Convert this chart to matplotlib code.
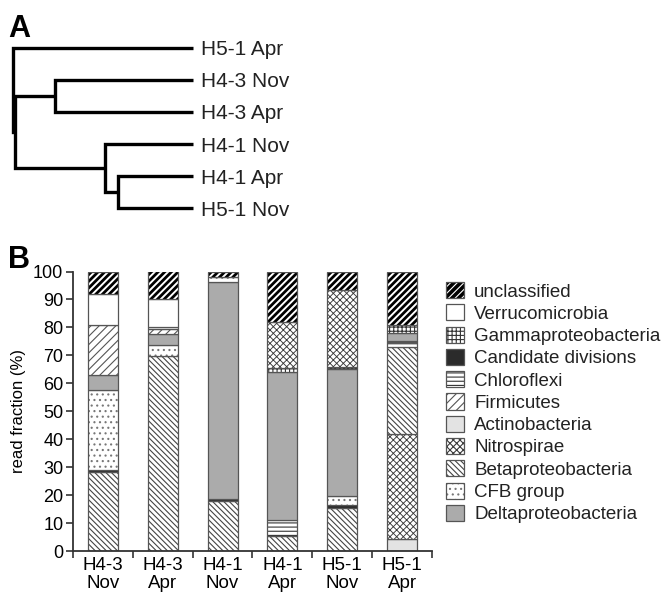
import matplotlib
matplotlib.use('Agg')
import matplotlib.pyplot as plt
from matplotlib.patches import Patch
from matplotlib.legend_handler import HandlerTuple

plt.rcParams['font.family'] = ['Liberation Sans', 'DejaVu Sans']
plt.rcParams['hatch.linewidth'] = 0.8
plt.rcParams['text.color'] = '#222222'

# ---- panel A: dendrogram (leaf order + merge heights) ----
tree_leaves = ["H5-1 Apr", "H4-3 Nov", "H4-3 Apr", "H4-1 Nov", "H4-1 Apr", "H5-1 Nov"]
# (child a, child b, height) ; new clusters numbered from 6 upward
tree_merges = [(4, 5, 74), (3, 6, 87), (1, 2, 136), (7, 8, 176), (0, 9, 178)]

# ---- panel B: stacked read fractions (%), bottom to top ----
samples = ["H4-3\nNov", "H4-3\nApr", "H4-1\nNov", "H4-1\nApr", "H5-1\nNov", "H5-1\nApr"]

h43_nov = [("Betaproteobacteria", 28.2), ("Candidate divisions", 0.8), ("CFB group", 28.6),
           ("Deltaproteobacteria", 5.2), ("Firmicutes", 18.1), ("Verrucomicrobia", 11.0),
           ("unclassified", 8.1)]
h43_apr = [("Betaproteobacteria", 69.9), ("CFB group", 3.9), ("Deltaproteobacteria", 3.9),
           ("Firmicutes", 1.9), ("Chloroflexi", 0.5), ("Verrucomicrobia", 9.9),
           ("unclassified", 10.0)]
h41_nov = [("Betaproteobacteria", 18.0), ("Candidate divisions", 0.6), ("Deltaproteobacteria", 77.8),
           ("CFB group", 1.5), ("unclassified", 2.1)]
h41_apr = [("Betaproteobacteria", 5.5), ("Chloroflexi", 5.5), ("Deltaproteobacteria", 53.2),
           ("Gammaproteobacteria", 1.2), ("Nitrospirae", 16.7), ("unclassified", 17.9)]
h51_nov = [("Betaproteobacteria", 15.3), ("Candidate divisions", 1.2), ("CFB group", 3.3),
           ("Deltaproteobacteria", 45.4), ("Gammaproteobacteria", 0.5), ("Nitrospirae", 27.7),
           ("unclassified", 6.6)]
h51_apr = [("Actinobacteria", 4.4), ("Nitrospirae", 37.4), ("Betaproteobacteria", 31.3),
           ("Chloroflexi", 1.6), ("Candidate divisions", 0.6), ("Deltaproteobacteria", 2.6),
           ("Gammaproteobacteria", 3.1), ("unclassified", 19.0)]
stacks = [h43_nov, h43_apr, h41_nov, h41_apr, h51_nov, h51_apr]

legend_taxa = ["unclassified", "Verrucomicrobia", "Gammaproteobacteria", "Candidate divisions",
               "Chloroflexi", "Firmicutes", "Actinobacteria", "Nitrospirae",
               "Betaproteobacteria", "CFB group", "Deltaproteobacteria"]

# face colour, hatch, hatch colour
style = {
    "unclassified": ("black", "/////", "white"),
    "Verrucomicrobia": ("white", "", "white"),
    "Gammaproteobacteria": ("white", "++++", "#333333"),
    "Candidate divisions": ("#2b2b2b", "", "#2b2b2b"),
    "Chloroflexi": ("white", "----", "#333333"),
    "Firmicutes": ("white", "////", "#555555"),
    "Actinobacteria": ("#e3e3e3", "", "#e3e3e3"),
    "Nitrospirae": ("white", "xxxxx", "#3a3a3a"),
    "Betaproteobacteria": ("white", "\\" * 6, "#444444"),
    "CFB group": ("white", "...", "#777777"),
    "Deltaproteobacteria": ("#ababab", "", "#ababab"),
}
hatch_lw = {"unclassified": 1.4, "Nitrospirae": 0.65}
edge_col = '#555555'


def set_hlw(patch, taxon):
    if taxon in hatch_lw and hasattr(patch, 'set_hatch_linewidth'):
        patch.set_hatch_linewidth(hatch_lw[taxon])


fig = plt.figure(figsize=(6.66, 5.97), dpi=100)

# dendrogram
axA = fig.add_axes([13 / 666, 1 - 208.3 / 597, 180 / 666, 160.6 / 597])
ypos = list(range(len(tree_leaves)))
height = [0] * len(tree_leaves)
for a, b, h in tree_merges:
    axA.plot([height[a], h, h, height[b]], [ypos[a], ypos[a], ypos[b], ypos[b]],
             color='black', lw=2.4, solid_joinstyle='miter', solid_capstyle='butt', clip_on=False)
    ypos.append((ypos[a] + ypos[b]) / 2)
    height.append(h)
for i, name in enumerate(tree_leaves):
    axA.annotate(name, (0, i), xytext=(6, 0), textcoords='offset points',
                 va='center_baseline', ha='left', fontsize=15)
axA.set_xlim(178, 0)
axA.set_ylim(5, 0)
axA.axis('off')

# stacked bars
ax = fig.add_axes([73 / 666, 46 / 597, 359 / 666, 279.5 / 597])
for i, stack in enumerate(stacks):
    bottom = 0
    for taxon, val in stack:
        face, hatch, hcol = style[taxon]
        bars = ax.bar(i, val, 0.5, bottom=bottom, color=face, edgecolor=hcol,
                      hatch=hatch, linewidth=0)
        for p in bars:
            set_hlw(p, taxon)
        ax.bar(i, val, 0.5, bottom=bottom, fill=False, edgecolor=edge_col, linewidth=0.9)
        bottom += val

ax.set_xlim(-0.5, len(samples) - 0.5)
ax.set_ylim(0, 100)
ax.set_yticks(range(0, 101, 10))
ax.set_xticks(range(len(samples)))
ax.set_xticklabels(samples, fontsize=13.5, linespacing=1.1)
ax.set_xticks([k - 0.5 for k in range(len(samples) + 1)], minor=True)
ax.tick_params(axis='x', which='major', length=0, pad=4)
ax.tick_params(axis='x', which='minor', length=5, width=1.2, color='#333333')
ax.tick_params(axis='y', length=5, width=1.2, color='#333333', labelsize=13, pad=2)
for s in ['top', 'right']:
    ax.spines[s].set_visible(False)
for s in ['left', 'bottom']:
    ax.spines[s].set_color('#333333')
    ax.spines[s].set_linewidth(1.3)
ax.set_ylabel("read fraction (%)", fontsize=12, labelpad=5)

handles = []
for taxon in legend_taxa:
    face, hatch, hcol = style[taxon]
    fillp = Patch(facecolor=face, edgecolor=hcol, hatch=hatch, linewidth=0)
    set_hlw(fillp, taxon)
    handles.append((fillp, Patch(fill=False, edgecolor=edge_col, linewidth=0.9)))
fig.legend(handles, legend_taxa, handler_map={tuple: HandlerTuple(ndivide=1, pad=0)},
           loc='upper left', bbox_to_anchor=(446 / 666, 1 - 282 / 597), frameon=False,
           fontsize=13.5, handlelength=0.95, handleheight=0.95, handletextpad=0.55,
           labelspacing=0.2, borderpad=0, borderaxespad=0)

fig.text(8 / 666, 1 - 37 / 597, "A", fontsize=22, fontweight='bold', color='black')
fig.text(8 / 666, 1 - 268 / 597, "B", fontsize=22, fontweight='bold', color='black')

fig.savefig('out.png', dpi=100)
